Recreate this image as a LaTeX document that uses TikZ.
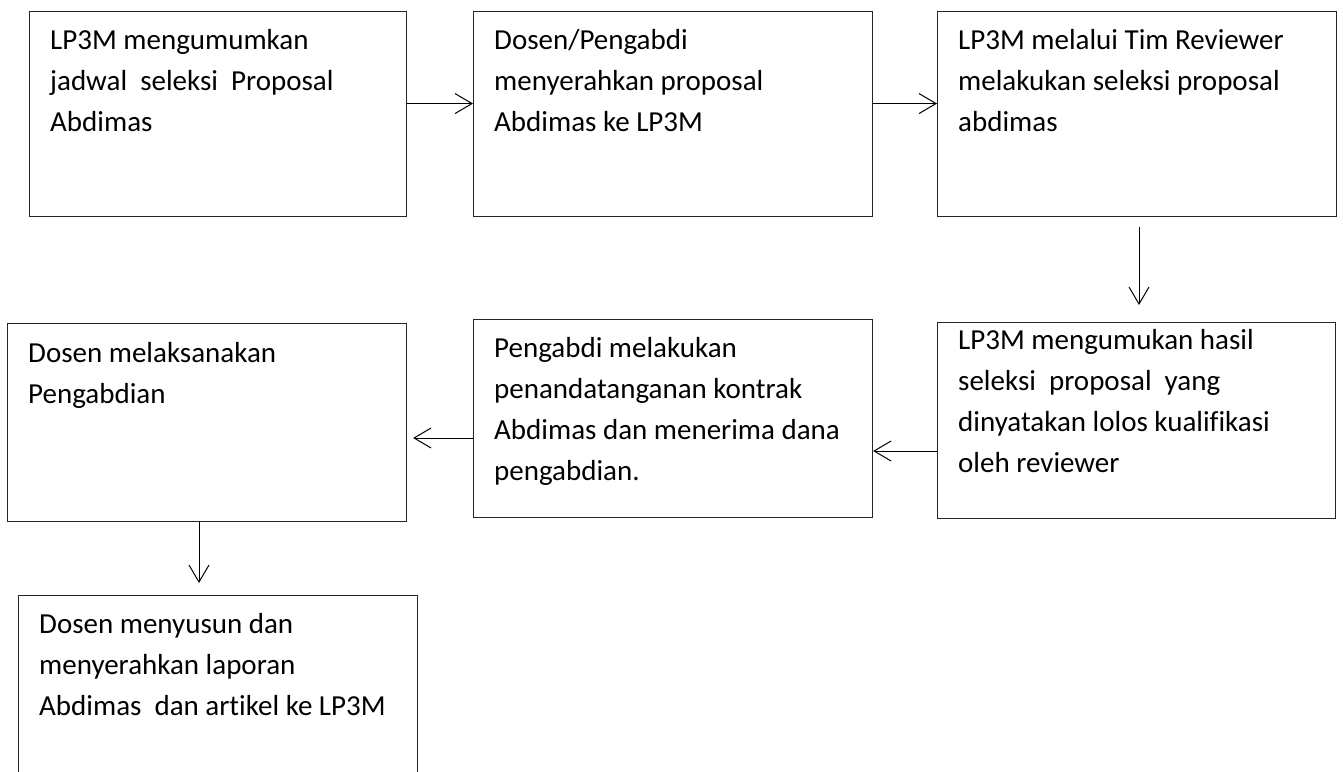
\documentclass[tikz,border=0pt]{standalone}
\usepackage{fontspec}
\setmainfont{Carlito}[Ligatures=NoCommon]
\usetikzlibrary{arrows.meta}
\tikzset{
  box/.style={draw=black!85, line width=1.1pt, inner sep=0pt, anchor=north west, rectangle},
  txt/.style={anchor=north west, inner sep=0pt, align=left, font=\fontsize{29}{41}\selectfont},
  arr/.style={draw=black, line width=1pt, -{Straight Barb[length=17pt,width=20pt,line width=1pt]}}
}
\begin{document}
\begin{tikzpicture}[x=1pt,y=-1pt]
\useasboundingbox (0,0) rectangle (1343,771);
\fill[white] (0,0) rectangle (1343,771);
\clip (0,0) rectangle (1343,771);
% boxes
\node[box, minimum width=377pt, minimum height=205pt] (b1) at (29,11) {};
\node[box, minimum width=399pt, minimum height=205pt] (b2) at (473,11) {};
\node[box, minimum width=399pt, minimum height=205pt] (b3) at (937,11) {};
\node[box, minimum width=398pt, minimum height=196pt] (b4) at (937,322) {};
\node[box, minimum width=399pt, minimum height=198pt] (b5) at (473,319) {};
\node[box, minimum width=399pt, minimum height=198pt] (b6) at (7,323) {};
\node[box, minimum width=399pt, minimum height=230pt] (b7) at (18,595) {};
% texts (first baseline = top + offset; strut height 28.7)
\node[txt] (t1) at ([xshift=21pt,yshift=-9.3pt]b1.north west) {\strut LP3M mengumumkan\\jadwal~ seleksi~ Proposal\\Abdimas};
\node[txt] (t2) at ([xshift=21pt,yshift=-9.3pt]b2.north west) {\strut Dosen/Pengabdi\\menyerahkan proposal\\Abdimas ke LP3M};
\node[txt] (t3) at ([xshift=21pt,yshift=-9.3pt]b3.north west) {\strut LP3M melalui Tim Reviewer\\melakukan seleksi proposal\\abdimas};
\node[txt] (t4) at ([xshift=21pt,yshift=1.7pt]b4.north west) {\strut LP3M mengumukan hasil\\seleksi~ proposal~ yang\\dinyatakan lolos kualifikasi\\oleh reviewer};
\node[txt] (t5) at ([xshift=21pt,yshift=-9.3pt]b5.north west) {\strut Pengabdi melakukan\\penandatanganan kontrak\\Abdimas dan menerima dana\\pengabdian.};
\node[txt] (t6) at ([xshift=21pt,yshift=-10.3pt]b6.north west) {\strut Dosen melaksanakan\\Pengabdian};
\node[txt] (t7) at ([xshift=21pt,yshift=-9.3pt]b7.north west) {\strut Dosen menyusun dan\\menyerahkan laporan\\Abdimas~ dan artikel ke LP3M};
% connector helpers
\coordinate (y4) at (0,451);
\coordinate (y5) at (0,438);
\coordinate (x3) at (1139,0);
\coordinate (x6) at (199,0);
% connectors
\draw[arr] ([yshift=10.5pt]b1.east) -- ([yshift=10.5pt]b2.west);
\draw[arr] ([yshift=10.5pt]b2.east) -- ([yshift=10.5pt]b3.west);
\draw[arr, shorten <=10pt, shorten >=17pt] (b3.south -| x3) -- (b4.north -| x3);
\draw[arr] (b4.west |- y4) -- (b5.east |- y4);
\draw[arr, shorten >=6pt] (b5.west |- y5) -- (b6.east |- y5);
\draw[arr, shorten >=12pt] (b6.south -| x6) -- (b7.north -| x6);
\end{tikzpicture}
\end{document}
